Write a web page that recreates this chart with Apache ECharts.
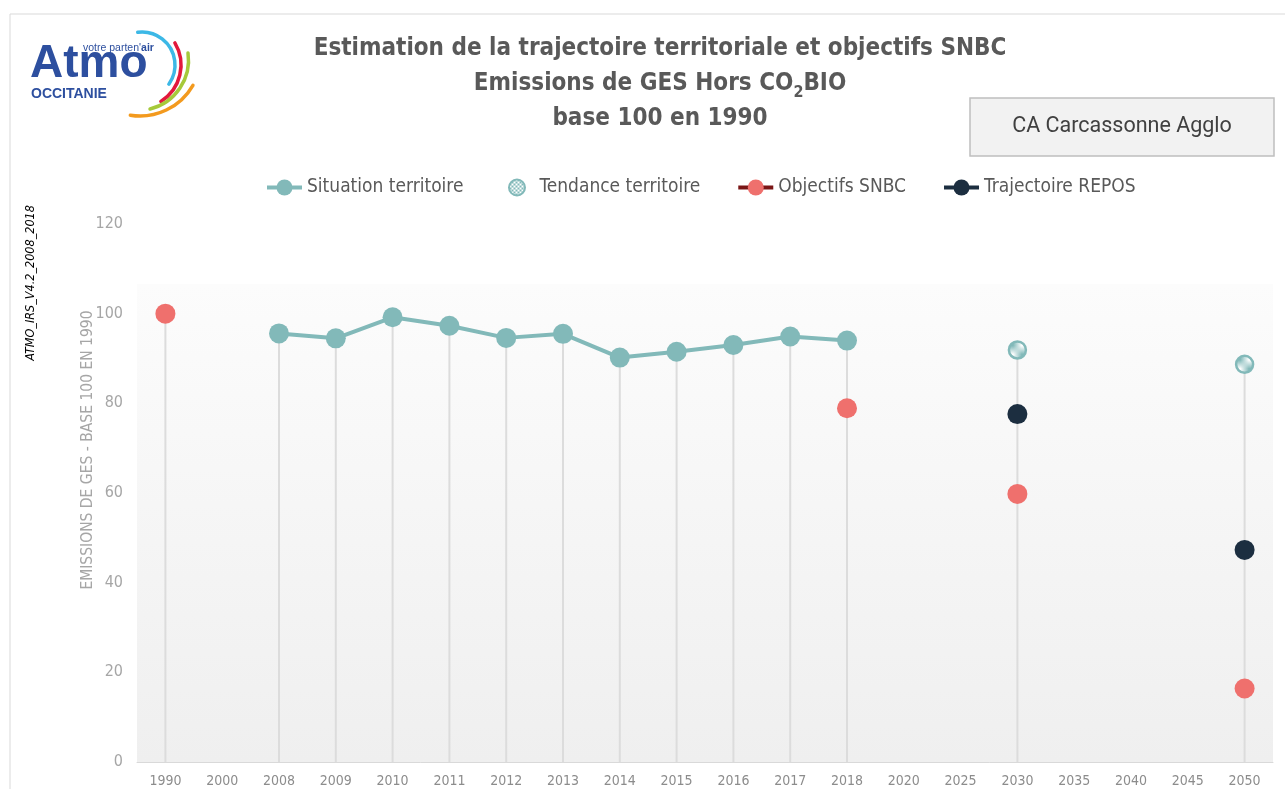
<!DOCTYPE html>
<html>
<head>
<meta charset="utf-8">
<script src="https://cdn.jsdelivr.net/npm/echarts@6/dist/echarts.min.js"></script>
<style>
html,body{margin:0;padding:0;background:#fff;}
#chart{width:1285px;height:789px;}
</style>
</head>
<body>
<div id="chart"></div>
<script>
// ---- Data ----
var categories = ['1990','2000','2008','2009','2010','2011','2012','2013','2014','2015','2016','2017','2018','2020','2025','2030','2035','2040','2045','2050'];
var situation  = [null,null,95.6,94.5,99.2,97.3,94.6,95.5,90.2,91.5,93.0,94.9,94.0,null,null,null,null,null,null,null];
var tendance   = [null,null,null,null,null,null,null,null,null,null,null,null,null,null,null,91.9,null,null,null,88.7];
var objectifs  = [100,null,null,null,null,null,null,null,null,null,null,null,78.9,null,null,59.8,null,null,null,16.4];
var repos      = [null,null,null,null,null,null,null,null,null,null,null,null,null,null,null,77.6,null,null,null,47.3];
var yTicks = [0,20,40,60,80,100,120];
var seriesNames = ['Situation territoire','Tendance territoire','Objectifs SNBC','Trajectoire REPOS'];

// drop lines: highest value per category
var dropLine = categories.map(function(c,i){
  var vals=[situation[i],tendance[i],objectifs[i],repos[i]].filter(function(v){return v!=null;});
  return vals.length?Math.max.apply(null,vals):null;
});

var TEAL='#82b9b9', PINK='#ef706d', NAVY='#1c2e40', DARKRED='#7a1616';
var NARROW="'Liberation Sans Narrow','DejaVu Sans Condensed','Arial Narrow',sans-serif";
var LOGO='#2d4f9f';

// hatched pattern for "Tendance"
var pc=document.createElement('canvas'); pc.width=4; pc.height=4;
var pctx=pc.getContext('2d');
pctx.fillStyle='#ffffff'; pctx.fillRect(0,0,4,4);
pctx.fillStyle=TEAL; pctx.fillRect(0,0,2,2); pctx.fillRect(2,2,2,2);
var hatch={image:pc,repeat:'repeat'};

var chart=echarts.init(document.getElementById('chart'),null,{renderer:'canvas'});
var option={
  backgroundColor:'#ffffff',
  animation:false,
  title:{
    text:'Estimation de la trajectoire territoriale et objectifs SNBC\nEmissions de GES Hors CO{sub|2}BIO\nbase 100 en 1990',
    left:655, top:26, textAlign:'center',
    textStyle:{
      fontFamily:NARROW, fontWeight:'bold', fontSize:24, color:'#595959', lineHeight:35,
      rich:{sub:{fontFamily:NARROW, fontWeight:'bold', fontSize:16, color:'#595959', verticalAlign:'bottom', padding:[10,0,0,0]}}
    }
  },
  legend:{
    left:260, top:173, itemWidth:35, itemHeight:20, itemGap:36,
    textStyle:{fontFamily:NARROW, fontSize:19, color:'#595959'},
    data:[
      {name:seriesNames[0], lineStyle:{color:TEAL,width:4}},
      {name:seriesNames[1], lineStyle:{opacity:0}},
      {name:seriesNames[2], lineStyle:{color:DARKRED,width:4}},
      {name:seriesNames[3], lineStyle:{color:NAVY,width:4}}
    ]
  },
  grid:{left:137,right:12,top:224,bottom:27},
  xAxis:{
    type:'category', data:categories, boundaryGap:true,
    axisLine:{show:true,lineStyle:{color:'#d9d9d9',width:1}},
    axisTick:{show:false},
    axisLabel:{fontFamily:NARROW, fontSize:14, color:'#8c8c8c', margin:12, interval:0}
  },
  yAxis:{
    type:'value', min:0, max:120, interval:20,
    axisLine:{show:false}, axisTick:{show:false}, splitLine:{show:false},
    axisLabel:{fontFamily:NARROW, fontSize:16, color:'#a6a6a6', margin:14,
      formatter:function(v){return yTicks.indexOf(v)>=0?String(v):'';}}
  },
  graphic:[
    {type:'rect', shape:{x:10,y:14,width:1285,height:800}, style:{fill:'none',stroke:'#d9d9d9',lineWidth:1}, silent:true},
    // logo
    {type:'text', left:30, top:41, style:{text:'Atmo', font:'bold 46px "Liberation Sans", Arial, sans-serif', fill:LOGO}},
    {type:'text', left:83, top:43, style:{text:"votre parten'{b|air}", font:'10.5px "Liberation Sans", Arial, sans-serif', fill:LOGO, rich:{b:{fontWeight:'bold',fontSize:10.5,fill:LOGO}}}},
    {type:'text', left:31, top:87, style:{text:'OCCITANIE', font:'bold 14px "Liberation Sans", Arial, sans-serif', fill:LOGO}},
    {type:'arc', shape:{cx:142,cy:65,r:33,startAngle:-1.70,endAngle:0.62}, style:{stroke:'#3cb8e6',lineWidth:3.5,fill:'none',lineCap:'round'}},
    {type:'arc', shape:{cx:138,cy:65,r:43,startAngle:-0.54,endAngle:1.01}, style:{stroke:'#e2183c',lineWidth:3.5,fill:'none',lineCap:'round'}},
    {type:'arc', shape:{cx:138,cy:60,r:50.5,startAngle:-0.14,endAngle:1.33}, style:{stroke:'#a6c93a',lineWidth:3.5,fill:'none',lineCap:'round'}},
    {type:'arc', shape:{cx:140,cy:55,r:61,startAngle:0.52,endAngle:1.73}, style:{stroke:'#f39a1e',lineWidth:3.5,fill:'none',lineCap:'round'}},
    // territory box
    {type:'rect', shape:{x:970,y:98,width:304,height:58}, style:{fill:'#f2f2f2',stroke:'#bfbfbf',lineWidth:1.5}},
    {type:'text', x:1122, y:127, style:{text:'CA Carcassonne Agglo', font:'21.5px Roboto, sans-serif', fill:'#404040', align:'center', verticalAlign:'middle'}},
    // side texts
    {type:'text', x:31, y:283, rotation:Math.PI/2, style:{text:'ATMO_IRS_V4.2_2008_2018', font:'italic 12.5px '+NARROW, fill:'#000000', align:'center', verticalAlign:'middle'}},
    {type:'text', x:88, y:450, rotation:Math.PI/2, style:{text:'EMISSIONS DE GES - BASE 100 EN 1990', font:'15.5px '+NARROW, fill:'#a6a6a6', align:'center', verticalAlign:'middle'}}
  ],
  series:[
    {
      name:'drop', type:'bar', data:dropLine, barWidth:2, silent:true, z:1,
      itemStyle:{color:'#dcdcdc'},
      markArea:{silent:true, itemStyle:{color:{type:'linear',x:0,y:0,x2:0,y2:1,colorStops:[{offset:0,color:'#fcfcfc'},{offset:1,color:'#efefef'}]}},
        data:[[{yAxis:0},{yAxis:106.6}]]}
    },
    {
      name:seriesNames[0], type:'line', data:situation, z:3,
      symbol:'circle', symbolSize:20, connectNulls:false,
      lineStyle:{color:TEAL,width:4}, itemStyle:{color:TEAL}
    },
    {
      name:seriesNames[1], type:'line', data:tendance, z:3,
      symbol:'circle', symbolSize:17, connectNulls:false,
      lineStyle:{color:TEAL,width:0}, itemStyle:{color:hatch,borderColor:TEAL,borderWidth:2.5}
    },
    {
      name:seriesNames[2], type:'line', data:objectifs, z:3,
      symbol:'circle', symbolSize:20, connectNulls:false,
      lineStyle:{color:DARKRED,width:3}, itemStyle:{color:PINK}
    },
    {
      name:seriesNames[3], type:'line', data:repos, z:3,
      symbol:'circle', symbolSize:20, connectNulls:false,
      lineStyle:{color:NAVY,width:3}, itemStyle:{color:NAVY}
    }
  ]
};
chart.setOption(option);
</script>
</body>
</html>
